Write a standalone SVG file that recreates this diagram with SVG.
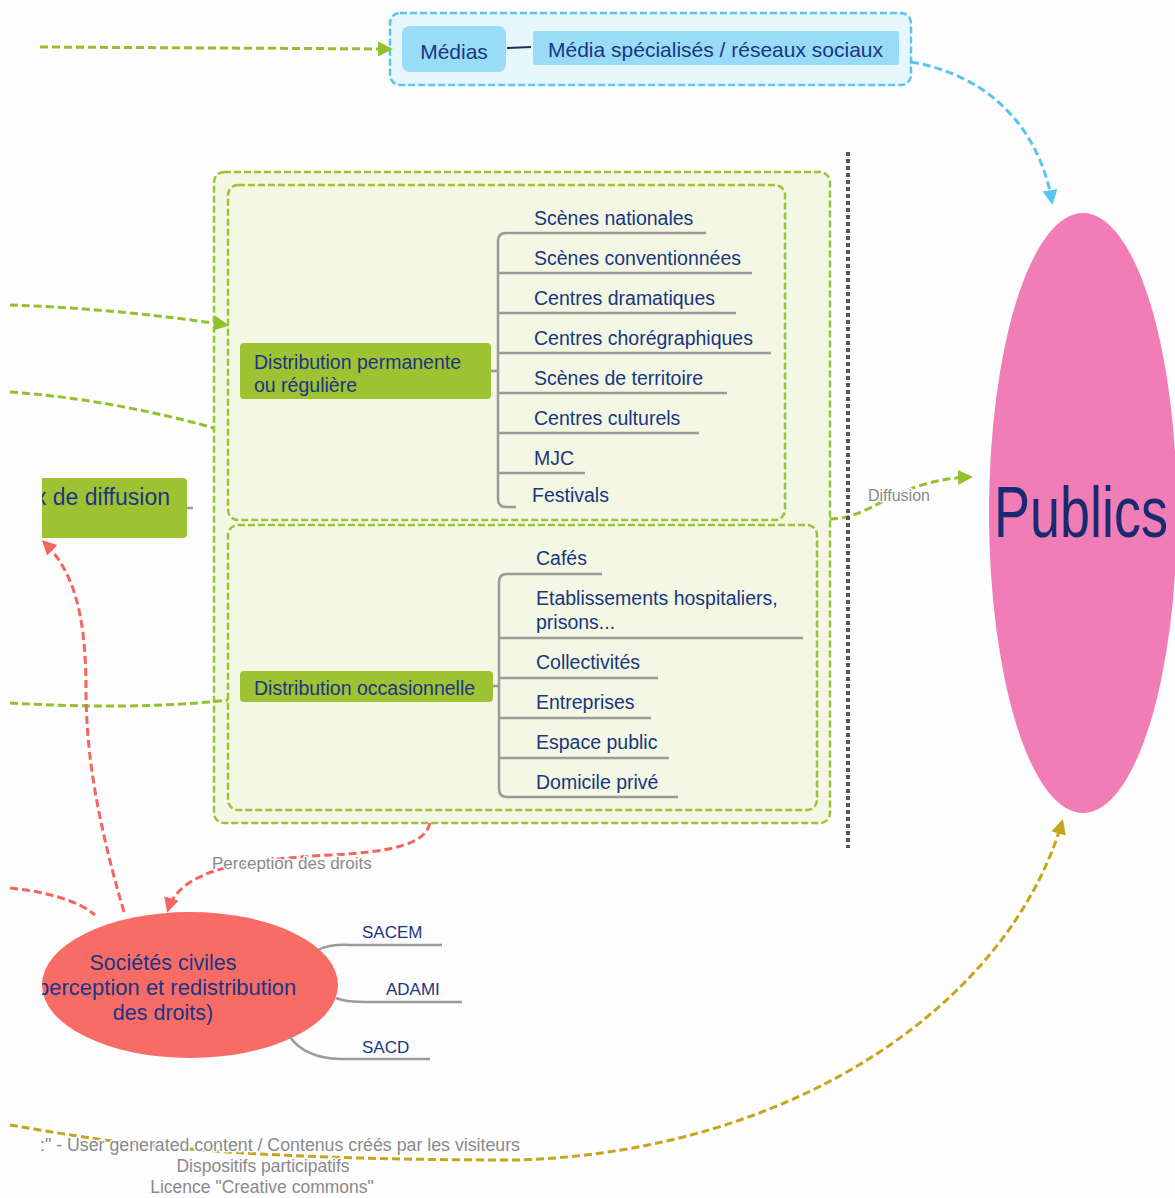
<svg xmlns="http://www.w3.org/2000/svg" width="1175" height="1198" viewBox="0 0 1175 1198">
<style>
text{font-family:"Liberation Sans",Arial,sans-serif;}
.nv{fill:#1b3584;}
.it{font-size:19.5px;fill:#17367f;}
.gl{fill:#8a8a8a;stroke:#fdfdfd;stroke-width:3;paint-order:stroke;stroke-linejoin:round;}
.gbox{fill:#f3f7e3;stroke:#9cc43a;stroke-width:2.5;stroke-dasharray:7,3;}
.gfill{fill:#9dc232;}
.tree{fill:none;stroke:#9a9a9a;stroke-width:2.5;}
.ga{fill:none;stroke:#93c02f;stroke-width:3;stroke-dasharray:8,4;}
.ra{fill:none;stroke:#f2665f;stroke-width:3;stroke-dasharray:8,4;}
</style>
<defs>
<marker id="mg" viewBox="0 0 10 10" refX="8" refY="5" markerWidth="5" markerHeight="5" orient="auto" markerUnits="strokeWidth"><path d="M0,0 L10,5 L0,10 z" fill="#93c02f"/></marker>
<marker id="mb" viewBox="0 0 10 10" refX="8" refY="5" markerWidth="5" markerHeight="5" orient="auto" markerUnits="strokeWidth"><path d="M0,0 L10,5 L0,10 z" fill="#5bc5f2"/></marker>
<marker id="mr" viewBox="0 0 10 10" refX="8" refY="5" markerWidth="5" markerHeight="5" orient="auto" markerUnits="strokeWidth"><path d="M0,0 L10,5 L0,10 z" fill="#f2665f"/></marker>
<marker id="my" viewBox="0 0 10 10" refX="8" refY="5" markerWidth="5" markerHeight="5" orient="auto" markerUnits="strokeWidth"><path d="M0,0 L10,5 L0,10 z" fill="#c6a51c"/></marker>
<clipPath id="cl"><rect x="42" y="0" width="1133" height="1198"/></clipPath>
</defs>
<rect width="1175" height="1198" fill="#fdfdfd"/>

<!-- Publics -->
<g id="publics">
<ellipse cx="1083" cy="513" rx="94" ry="300" fill="#f07db5"/>
<text x="994" y="537" font-size="72" fill="#1a2a70" textLength="174" lengthAdjust="spacingAndGlyphs">Publics</text>
</g>

<!-- Médias group -->
<g id="medias">
<rect x="390" y="13" width="521" height="72" rx="10" fill="#e7f5fc" stroke="#5bc5f2" stroke-width="2.5" stroke-dasharray="7,3"/>
<rect x="402" y="26" width="104" height="46" rx="8" fill="#99dcf8"/>
<text x="454" y="59" font-size="21" text-anchor="middle" class="nv">Médias</text>
<line x1="507" y1="48" x2="531" y2="47" stroke="#1b3060" stroke-width="2"/>
<rect x="533" y="31" width="366" height="34" rx="3" fill="#99dcf8"/>
<text x="548" y="57" font-size="21" class="nv" textLength="335" lengthAdjust="spacingAndGlyphs">Média spécialisés / réseaux sociaux</text>
</g>

<!-- Distribution group -->
<g id="distribution">
<rect x="214" y="172" width="616" height="651" rx="10" class="gbox"/>
<rect x="228" y="185" width="557" height="335" rx="10" class="gbox"/>
<rect x="228" y="525" width="589" height="285" rx="10" class="gbox"/>
</g>

<g id="dist-permanente">
<rect x="240" y="343" width="251" height="56" rx="4" class="gfill"/>
<text x="254" y="369" font-size="19.5" class="nv">Distribution permanente</text>
<text x="254" y="392" font-size="19.5" class="nv">ou régulière</text>
<path class="tree" d="M491,371 H498 M706,233 H506 Q498,233 498,241 V499 Q498,507 506,507 H516 M498,273 H752 M498,313 H736 M498,353 H771 M498,393 H727 M498,433 H699 M498,473 H585"/>
<text x="534" y="225" class="it">Scènes nationales</text>
<text x="534" y="265" class="it">Scènes conventionnées</text>
<text x="534" y="305" class="it">Centres dramatiques</text>
<text x="534" y="345" class="it">Centres chorégraphiques</text>
<text x="534" y="385" class="it">Scènes de territoire</text>
<text x="534" y="425" class="it">Centres culturels</text>
<text x="534" y="465" class="it">MJC</text>
<text x="532" y="502" class="it">Festivals</text>
</g>

<g id="dist-occasionnelle">
<rect x="240" y="671" width="253" height="31" rx="4" class="gfill"/>
<text x="254" y="695" font-size="19.5" class="nv">Distribution occasionnelle</text>
<path class="tree" d="M493,686 H499 M602,574 H507 Q499,574 499,582 V789 Q499,797 507,797 H678 M499,638 H803 M499,678 H658 M499,718 H651 M499,758 H669"/>
<text x="536" y="565" class="it">Cafés</text>
<text x="536" y="605" class="it">Etablissements hospitaliers,</text>
<text x="536" y="629" class="it">prisons...</text>
<text x="536" y="669" class="it">Collectivités</text>
<text x="536" y="709" class="it">Entreprises</text>
<text x="536" y="749" class="it">Espace public</text>
<text x="536" y="789" class="it">Domicile privé</text>
</g>

<!-- Réseaux de diffusion (cropped) -->
<g id="reseaux" clip-path="url(#cl)">
<rect x="0" y="478" width="187" height="60" rx="4" class="gfill"/>
<text x="170" y="505" font-size="23" class="nv" text-anchor="end">x de diffusion</text>
<line x1="187" y1="508" x2="193" y2="508" stroke="#9a9a9a" stroke-width="2.5"/>
</g>

<!-- Sociétés civiles -->
<g id="societes" clip-path="url(#cl)">
<ellipse cx="190" cy="985" rx="148" ry="73" fill="#f86c66"/>
<text x="163" y="970" font-size="21.5" class="nv" text-anchor="middle">Sociétés civiles</text>
<text x="163" y="995" font-size="22" class="nv" text-anchor="middle">(perception et redistribution</text>
<text x="163" y="1020" font-size="21.5" class="nv" text-anchor="middle">des droits)</text>
</g>
<g id="sacem">
<path class="tree" d="M318,950 Q330,944 350,945 H442"/>
<text x="362" y="938" font-size="17" class="nv">SACEM</text>
</g>
<g id="adami">
<path class="tree" d="M336,998 Q345,1002 365,1002 H462"/>
<text x="386" y="995" font-size="17" class="nv">ADAMI</text>
</g>
<g id="sacd">
<path class="tree" d="M290,1037 Q305,1058 340,1059 H430"/>
<text x="362" y="1053" font-size="17" class="nv">SACD</text>
</g>

<!-- Connectors -->
<g id="connectors">
<path class="ga" d="M40,47 L390,49" marker-end="url(#mg)"/>
<path class="ga" d="M10,305 C80,307 160,315 226,325" marker-end="url(#mg)"/>
<path class="ga" d="M10,392 C80,397 150,410 214,428"/>
<path class="ga" stroke-width="5" d="M10,703 C80,707 160,708 228,700"/>
<path class="ga" d="M830,519 C872,519 895,480 970,477" marker-end="url(#mg)"/>
<path fill="none" stroke="#5bc5f2" stroke-width="3" stroke-dasharray="8,4" d="M911,62 C990,75 1040,130 1052,202" marker-end="url(#mb)"/>
<path class="ra" d="M430,823 C425,845 390,852 330,855 C240,860 180,870 168,910" marker-end="url(#mr)"/>
<path class="ra" stroke-width="2.5" d="M124,912 C100,830 86,760 86,690 C86,610 72,570 44,542" marker-end="url(#mr)"/>
<path class="ra" d="M10,888 C50,892 80,902 95,915"/>
<path fill="none" stroke="#c6a51c" stroke-width="3" stroke-dasharray="8,4" d="M10,1125 C100,1140 200,1160 520,1160 C800,1150 1010,1000 1062,822" marker-end="url(#my)"/>
<line x1="848" y1="152" x2="848" y2="848" stroke="#555" stroke-width="4" stroke-dasharray="4,3"/>
</g>

<!-- Labels -->
<g id="labels">
<text x="868" y="501" font-size="16" class="gl">Diffusion</text>
<text x="212" y="869" font-size="17" class="gl">Perception des droits</text>
<text x="40" y="1151" font-size="17.5" class="gl" textLength="480" lengthAdjust="spacingAndGlyphs">:" - User generated content / Contenus créés par les visiteurs</text>
<text x="263" y="1172" font-size="17.5" class="gl" text-anchor="middle">Dispositifs participatifs</text>
<text x="262" y="1193" font-size="17.5" class="gl" text-anchor="middle">Licence "Creative commons"</text>
</g>
</svg>
